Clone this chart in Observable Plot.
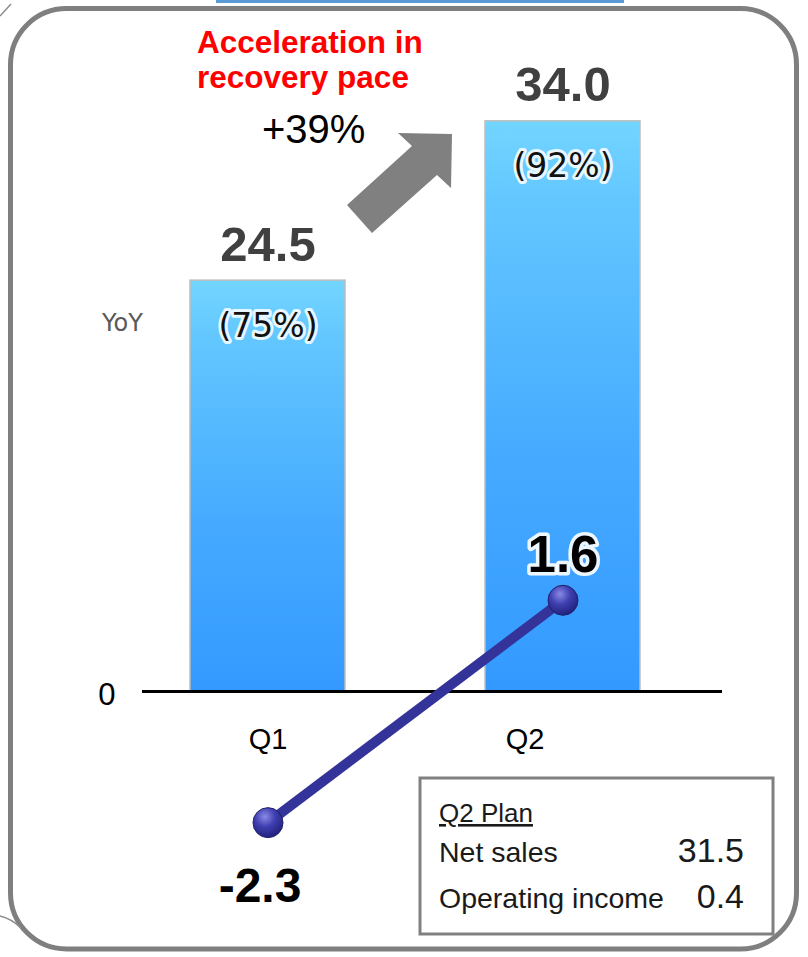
<!DOCTYPE html>
<html>
<head>
<meta charset="utf-8">
<script src="https://cdn.jsdelivr.net/npm/d3@7"></script>
<script src="https://cdn.jsdelivr.net/npm/@observablehq/plot@0.6"></script>
<style>
  html, body { margin: 0; padding: 0; background: #fff; }
  #wrap { position: relative; width: 808px; height: 957px; overflow: hidden; background: #fff; }
  #wrap > svg { position: absolute; left: 0; top: 0; }
  #overlay { pointer-events: none; }
</style>
</head>
<body>
<div id="wrap"></div>
<script>
// ---- data ----
const quarters = ["Q1", "Q2"];
const netSales = [24.5, 34.0];
const yoyPct = [75, 92];
const opIncome = [-2.3, 1.6];
const planTitle = "Q2 Plan";
const planLabels = ["Net sales", "Operating income"];
const planValues = [31.5, 0.4];
const zeroTick = [0];

const sales = quarters.map((q, i) => ({q, v: netSales[i], yoy: yoyPct[i]}));
const op = quarters.map((q, i) => ({q, v: opIncome[i]}));

// secondary (operating income) axis expressed in primary units
const R = 3.4;
const K = 16.77; // px per unit
const Y0 = 691;  // zero baseline in px

const F = "'Liberation Sans', Arial, sans-serif";

const chart = Plot.plot({
  width: 808,
  height: 957,
  marginLeft: 142,
  marginRight: 86,
  marginTop: 0,
  marginBottom: 0,
  style: {background: "transparent", fontFamily: F, overflow: "visible"},
  x: {domain: quarters, paddingInner: 0.475, paddingOuter: 0.22, align: 0.37, axis: null},
  y: {domain: [-10, 36], range: [Y0 + 10 * K, Y0 - 36 * K], axis: null},
  marks: [
    Plot.barY(sales, {x: "q", y: "v", fill: "url(#barGrad)", stroke: "#bdbdbd", strokeWidth: 1.5}),
    Plot.ruleY(zeroTick, {stroke: "#000", strokeWidth: 3}),
    Plot.axisY({ticks: zeroTick, tickSize: 0, tickPadding: 27, fontSize: 31, label: null, dy: 4, fill: "#000", tickFormat: d => String(d)}),
    Plot.text(quarters, {filter: d => d === "Q1", x: d => d, y: () => 0, text: d => d, lineAnchor: "bottom", dy: 57, fontSize: 29, fill: "#000"}),
    Plot.text(quarters, {filter: d => d === "Q2", x: d => d, y: () => 0, text: d => d, lineAnchor: "bottom", dy: 57, dx: -38, fontSize: 29, fill: "#000"}),
    Plot.text(sales, {x: "q", y: "v", text: d => d.v.toFixed(1), lineAnchor: "bottom", dy: -20, fontSize: 49, fontWeight: "bold", fill: "#404040"}),
    Plot.text(sales, {x: "q", y: "v", text: d => `(${d.yoy}%)`, lineAnchor: "bottom", dy: 56, fontSize: 33, fontFamily: "'DejaVu Sans', sans-serif", fill: "#111", stroke: "#fff", strokeWidth: 6, strokeOpacity: 0.85}),
    Plot.line(op, {x: "q", y: d => d.v * R, stroke: "#333399", strokeWidth: 10, strokeLinecap: "butt"}),
    Plot.dot(op, {x: "q", y: d => d.v * R, r: 15, fill: "url(#dotGrad)", stroke: "#20206a", strokeWidth: 1}),
    Plot.text(op, {filter: d => d.v >= 0, x: "q", y: d => d.v * R, text: d => d.v.toFixed(1), lineAnchor: "bottom", dy: -28, fontSize: 51, fontWeight: "bold", fill: "#000", stroke: "#fff", strokeWidth: 7, strokeOpacity: 0.9}),
    Plot.text(op, {filter: d => d.v < 0, x: "q", y: d => d.v * R, text: d => d.v.toFixed(1), lineAnchor: "bottom", dy: 79, dx: -8, fontSize: 48, fontWeight: "bold", fill: "#000"})
  ]
});

// gradients
const ns = "http://www.w3.org/2000/svg";
const defs = document.createElementNS(ns, "defs");
defs.innerHTML = `
  <linearGradient id="barGrad" x1="0" y1="0" x2="0" y2="1">
    <stop offset="0" stop-color="#72D5FF"/>
    <stop offset="0.15" stop-color="#62C6FF"/>
    <stop offset="0.6" stop-color="#45AAFF"/>
    <stop offset="1" stop-color="#3399FF"/>
  </linearGradient>
  <radialGradient id="dotGrad" cx="0.4" cy="0.3" r="0.75">
    <stop offset="0" stop-color="#8a8ae6"/>
    <stop offset="0.45" stop-color="#3f3fb0"/>
    <stop offset="1" stop-color="#1e1e78"/>
  </radialGradient>`;
chart.insertBefore(defs, chart.firstChild);

const wrap = document.getElementById("wrap");
wrap.appendChild(chart);

// overlay: frame, annotations, plan box
const ov = document.createElementNS(ns, "svg");
ov.setAttribute("id", "overlay");
ov.setAttribute("width", 808);
ov.setAttribute("height", 957);
const planRows = planLabels.map((l, i) => `
  <text x="439" y="${862 + i * 46}" font-size="28.5" fill="#1a1a1a">${l}</text>
  <text x="744" y="${862 + i * 46}" font-size="34" fill="#1a1a1a" text-anchor="end">${planValues[i].toFixed(1)}</text>`).join("");
ov.innerHTML = `
  <g font-family="${F}">
    <rect x="10.5" y="8.5" width="786" height="940.5" rx="56" ry="56" fill="none" stroke="#7f7f7f" stroke-width="5"/>
    <rect x="216" y="0" width="408" height="3" fill="#5b9bd5"/>
    <path d="M0,16 L11,4" stroke="#8a8a8a" stroke-width="1.5" fill="none"/>
    <path d="M0,916 Q12,919 21,928" stroke="#8a8a8a" stroke-width="1.5" fill="none"/>
    <text x="197" y="53" font-size="31.5" font-weight="bold" fill="#ff0000">Acceleration in</text>
    <text x="197" y="88" font-size="31.5" font-weight="bold" fill="#ff0000">recovery pace</text>
    <text x="262" y="143" font-size="40" fill="#000">+39%</text>
    <polygon points="347,205 412,146 398,133 452,134 451,188 437,175 372,233" fill="#808080"/>
    <text x="102" y="331" font-size="24" font-family="'DejaVu Sans', sans-serif" fill="#595959">YoY</text>
    <rect x="420" y="778" width="353" height="156" fill="#fff" stroke="#808080" stroke-width="3"/>
    <text x="439" y="822" font-size="26" fill="#1a1a1a" text-decoration="underline">${planTitle}</text>
    ${planRows}
  </g>`;
wrap.appendChild(ov);
</script>
</body>
</html>
